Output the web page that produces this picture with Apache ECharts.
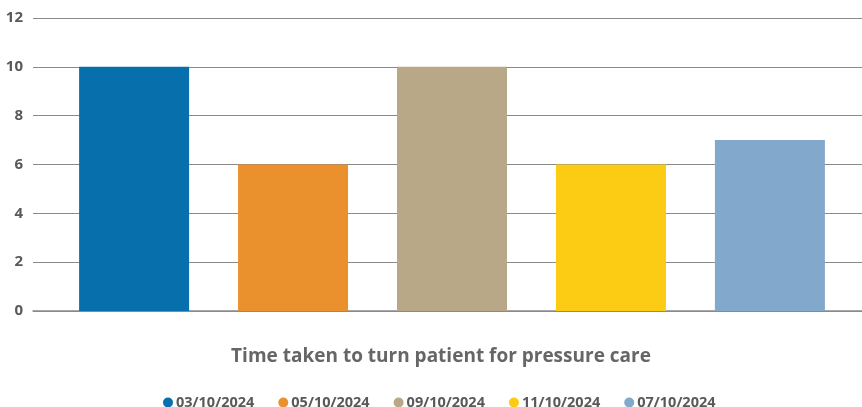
<!DOCTYPE html>
<html>
<head>
<meta charset="utf-8">
<script src="https://cdn.jsdelivr.net/npm/echarts@6/dist/echarts.min.js"></script>
<style>
  html, body { margin: 0; padding: 0; background: #fff; overflow: hidden; }
  #chart { width: 862px; height: 407px; }
</style>
</head>
<body>
<div id="chart"></div>
<script>
// 数据
var categories = ['Time taken to turn patient for pressure care'];
var dates = ['03/10/2024', '05/10/2024', '09/10/2024', '11/10/2024', '07/10/2024'];
var values = [10, 6, 10, 6, 7];
var colors = ['#086fad', '#ea902d', '#b9a887', '#fccb14', '#82a9cb'];
var yTicks = { min: 0, max: 12, interval: 2 };

var chart = echarts.init(document.getElementById('chart'));

var series = dates.map(function (d, i) {
    return {
        name: d,
        type: 'bar',
        data: [values[i]],
        barWidth: 110,
        barGap: '44.5%',
        itemStyle: { color: colors[i] }
    };
});

var option = {
    animation: false,
    textStyle: { fontFamily: 'Open Sans' },
    grid: { left: 33, right: -9, top: 18, bottom: 96, outerBoundsMode: 'none', containLabel: false },
    legend: {
        top: 390,
        left: 158,
        icon: 'circle',
        itemWidth: 10,
        itemHeight: 10,
        itemGap: 24,
        textStyle: { color: '#595959', fontSize: 14.5, fontWeight: 'bold', fontFamily: 'Open Sans', padding: [0, 0, 0, -2] },
        data: dates
    },
    xAxis: {
        type: 'category',
        data: categories,
        name: categories[0],
        nameLocation: 'middle',
        nameGap: 36,
        nameTextStyle: { color: '#666', fontSize: 19, fontWeight: 'bold', fontFamily: 'Open Sans', padding: [0, 22, 0, 0] },
        axisLabel: { show: false },
        axisTick: { show: false },
        axisLine: { lineStyle: { color: '#8a8a8a', width: 1.5 } }
    },
    yAxis: {
        type: 'value',
        min: yTicks.min,
        max: yTicks.max,
        interval: yTicks.interval,
        axisLabel: { color: '#595959', fontSize: 15, fontWeight: 'bold', margin: 10, fontFamily: 'Open Sans' },
        axisLine: { show: false },
        axisTick: { show: false },
        splitLine: { lineStyle: { color: '#8a8a8a', width: 1 } }
    },
    series: series
};
chart.setOption(option);
</script>
</body>
</html>
